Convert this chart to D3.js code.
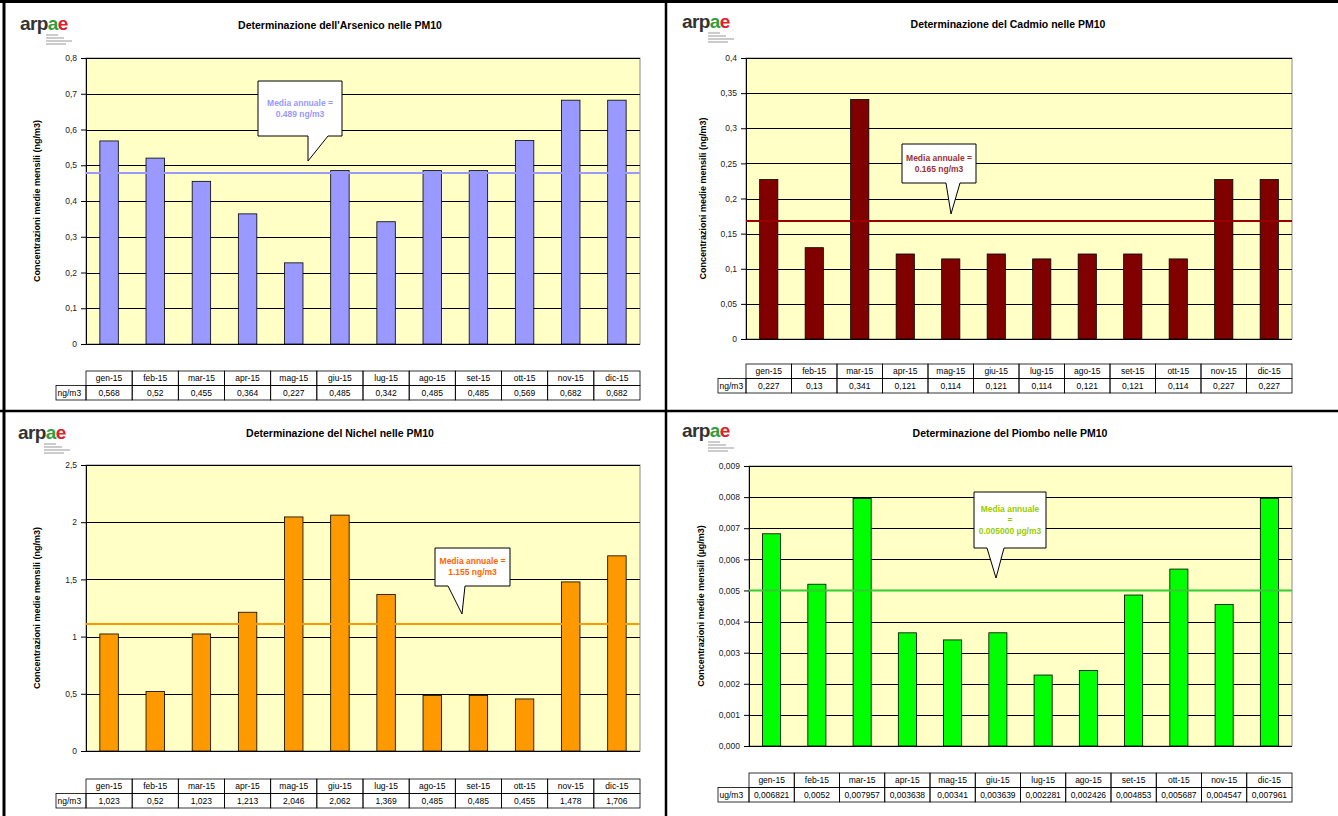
<!DOCTYPE html>
<html><head><meta charset="utf-8">
<script src="https://cdn.jsdelivr.net/npm/d3@7"></script>
<style>
body{margin:0;background:#fff;}
svg{display:block;font-family:"Liberation Sans",Arial,sans-serif;}
</style></head>
<body>
<svg id="c" width="1338" height="816"></svg>
<script>
// ---- data ----
const months = ["gen-15","feb-15","mar-15","apr-15","mag-15","giu-15","lug-15","ago-15","set-15","ott-15","nov-15","dic-15"];
const arsenico = [0.568,0.52,0.455,0.364,0.227,0.485,0.342,0.485,0.485,0.569,0.682,0.682];
const cadmio = [0.227,0.13,0.341,0.121,0.114,0.121,0.114,0.121,0.121,0.114,0.227,0.227];
const nichel = [1.023,0.52,1.023,1.213,2.046,2.062,1.369,0.485,0.485,0.455,1.478,1.706];
const piombo = [0.006821,0.0052,0.007957,0.003638,0.00341,0.003639,0.002281,0.002426,0.004853,0.005687,0.004547,0.007961];
const meanLines = [0.478,0.168,1.11,0.005];
const arsenicoTicks = [0,0.1,0.2,0.3,0.4,0.5,0.6,0.7,0.8];
const cadmioTicks = [0,0.05,0.1,0.15,0.2,0.25,0.3,0.35,0.4];
const nichelTicks = [0,0.5,1,1.5,2,2.5];
const piomboTicks = [0,0.001,0.002,0.003,0.004,0.005,0.006,0.007,0.008,0.009];
const titles = ["Determinazione dell'Arsenico nelle PM10","Determinazione del Cadmio nelle PM10","Determinazione del Nichel nelle PM10","Determinazione del Piombo nelle PM10"];
const yTitles = ["Concentrazioni medie mensili (ng/m3)","Concentrazioni medie mensili (ng/m3)","Concentrazioni medie mensili (ng/m3)","Concentrazioni medie mensili (µg/m3)"];
const unitLabels = ["ng/m3","ng/m3","ng/m3","ug/m3"];
const noteTexts = [["Media annuale =","0.489 ng/m3"],["Media annuale =","0.165 ng/m3"],["Media annuale =","1.155 ng/m3"],["Media annuale","=","0.005000 µg/m3"]];

// ---- layout / style ----
const panels = [
 {vals:arsenico, ticks:arsenicoTicks, max:0.8, dec:null, x0:86,x1:640,yT:58,yB:344, tabY:371, labX:56, yl:37, tx:340, ty:29, lx:20, ly:30,
  bar:"#9999FF", line:"#9999FF", note:"#9999FF", box:[258,81,342,136], ptr:[308,328,308,161]},
 {vals:cadmio, ticks:cadmioTicks, max:0.4, dec:null, x0:746,x1:1292,yT:58,yB:339, tabY:364, labX:718, yl:703, tx:1008, ty:28, lx:682, ly:28,
  bar:"#800000", line:"#990000", note:"#993333", box:[902,144,976,183], ptr:[946,960,951,214]},
 {vals:nichel, ticks:nichelTicks, max:2.5, dec:null, x0:86,x1:640,yT:465,yB:751, tabY:779, labX:56, yl:37, tx:340, ty:437, lx:18, ly:439,
  bar:"#FF9900", line:"#FF9900", note:"#FF6600", box:[435,548,510,586], ptr:[448,465,462,614]},
 {vals:piombo, ticks:piomboTicks, max:0.009, dec:3, x0:749,x1:1292,yT:466,yB:746, tabY:773, labX:718, yl:701, tx:1010, ty:437, lx:682, ly:437,
  bar:"#00FF00", line:"#33CC33", note:"#99CC00", box:[974,492,1046,548], ptr:[987,1004,996,578]}
];

const svg = d3.select("#c");
// page frame
svg.append("rect").attr("x",0).attr("y",0).attr("width",1338).attr("height",816).attr("fill","#fff");
const frame = svg.append("g").attr("stroke","#000");
frame.append("line").attr("x1",0).attr("x2",1338).attr("y1",1.5).attr("y2",1.5).attr("stroke-width",3);
frame.append("line").attr("x1",4).attr("x2",4).attr("y1",0).attr("y2",816).attr("stroke-width",3);
frame.append("line").attr("x1",666).attr("x2",666).attr("y1",0).attr("y2",816).attr("stroke-width",2.5);
frame.append("line").attr("x1",0).attr("x2",1338).attr("y1",411).attr("y2",411).attr("stroke-width",2.5);

function fmt(v, dec){
  if(dec!==null) return v.toFixed(dec).replace(".",",");
  return String(+v.toFixed(4)).replace(".",",");
}

panels.forEach((p,i)=>{
  const g = svg.append("g");
  // logo
  const lg = g.append("text").attr("x",p.lx).attr("y",p.ly).attr("font-size",19).attr("font-weight","bold").attr("letter-spacing","-0.6");
  lg.append("tspan").attr("fill","#333").text("arp");
  lg.append("tspan").attr("fill","#2e9e3e").text("a");
  lg.append("tspan").attr("fill","#e0202a").text("e");
  [0,3,6,9].forEach((d,k)=>{
    g.append("line").attr("x1",p.lx+26).attr("x2",p.lx+26+[12,18,26,20][k]).attr("y1",p.ly+5+d).attr("y2",p.ly+5+d)
     .attr("stroke","#aaa").attr("stroke-width",1.2);
  });
  // title
  g.append("text").attr("x",p.tx).attr("y",p.ty).attr("text-anchor","middle").attr("font-size",10.5).attr("font-weight","bold").attr("fill","#000").text(titles[i]);

  const x = d3.scaleBand().domain(months).range([p.x0,p.x1]).paddingInner(0.6).paddingOuter(0.3);
  const xt = d3.scaleBand().domain(months).range([p.x0,p.x1]).padding(0);
  const y = d3.scaleLinear().domain([0,p.max]).range([p.yB,p.yT]);

  // plot bg
  g.append("rect").attr("x",p.x0).attr("y",p.yT).attr("width",p.x1-p.x0).attr("height",p.yB-p.yT).attr("fill","#FFFFC6").attr("stroke","#888").attr("stroke-width",1);
  // gridlines
  g.selectAll(".grid").data(p.ticks.filter(t=>t>0)).join("line")
    .attr("x1",p.x0).attr("x2",p.x1).attr("y1",d=>Math.round(y(d))+0.5).attr("y2",d=>Math.round(y(d))+0.5)
    .attr("stroke","#000").attr("stroke-width",1);
  // axis
  const ax = d3.axisLeft(y).tickValues(p.ticks).tickSize(5).tickFormat(d=>fmt(d,p.dec));
  const axg = g.append("g").attr("transform",`translate(${p.x0},0)`).call(ax);
  axg.select(".domain").attr("stroke","#000");
  axg.selectAll("line").attr("stroke","#000");
  axg.selectAll("text").attr("font-size",8.5).attr("fill","#222").attr("font-family","Liberation Sans, Arial, sans-serif").attr("dx",-1);
  g.append("line").attr("x1",p.x0).attr("x2",p.x1).attr("y1",p.yB+0.5).attr("y2",p.yB+0.5).attr("stroke","#000");
  // bars
  g.selectAll(".bar").data(p.vals).join("rect")
    .attr("x",(d,j)=>x(months[j])).attr("width",x.bandwidth())
    .attr("y",d=>y(d)).attr("height",d=>p.yB-y(d))
    .attr("fill",p.bar).attr("stroke","#000").attr("stroke-width",0.8);
  // mean line
  g.append("line").attr("x1",p.x0).attr("x2",p.x1).attr("y1",y(meanLines[i])).attr("y2",y(meanLines[i]))
    .attr("stroke",p.line).attr("stroke-width",2);
  // y title
  g.append("text").attr("transform",`translate(${p.yl},${(p.yT+p.yB)/2}) rotate(-90)`).attr("text-anchor","middle")
    .attr("dy","0.35em").attr("font-size",9).attr("font-weight","bold").attr("fill","#000").text(yTitles[i]);
  // callout
  const [bx0,by0,bx1,by1] = p.box, [pl,pr,tipx,tipy] = p.ptr;
  const path = `M${bx0},${by0}H${bx1}V${by1}H${pr}L${tipx},${tipy}L${pl},${by1}H${bx0}Z`;
  g.append("path").attr("d",path).attr("fill","#fff").attr("stroke","#000").attr("stroke-width",1);
  const lines = noteTexts[i];
  const lh = 11, cy = (by0+by1)/2 - (lines.length-1)*lh/2;
  lines.forEach((t,k)=>{
    g.append("text").attr("x",(bx0+bx1)/2).attr("y",cy+k*lh).attr("dy","0.35em").attr("text-anchor","middle")
     .attr("font-size",8.5).attr("font-weight","bold").attr("fill",p.note).text(t);
  });
  // table
  const rh = 14.5, ty0 = p.tabY;
  const tg = g.append("g").attr("font-size",8.5).attr("fill","#000");
  months.forEach((m,j)=>{
    const cx = xt(m);
    tg.append("rect").attr("x",cx).attr("y",ty0).attr("width",xt.bandwidth()).attr("height",rh).attr("fill","none").attr("stroke","#000").attr("stroke-width",0.8);
    tg.append("rect").attr("x",cx).attr("y",ty0+rh).attr("width",xt.bandwidth()).attr("height",rh).attr("fill","none").attr("stroke","#000").attr("stroke-width",0.8);
    tg.append("text").attr("x",cx+xt.bandwidth()/2).attr("y",ty0+rh/2).attr("dy","0.35em").attr("text-anchor","middle").text(m);
    tg.append("text").attr("x",cx+xt.bandwidth()/2).attr("y",ty0+rh*1.5).attr("dy","0.35em").attr("text-anchor","middle").text(String(p.vals[j]).replace(".",","));
  });
  tg.append("rect").attr("x",p.labX).attr("y",ty0+rh).attr("width",p.x0-p.labX).attr("height",rh).attr("fill","none").attr("stroke","#000").attr("stroke-width",0.8);
  tg.append("text").attr("x",p.labX+1.5).attr("y",ty0+rh*1.5).attr("dy","0.35em").text(unitLabels[i]);
});
</script>
</body></html>
